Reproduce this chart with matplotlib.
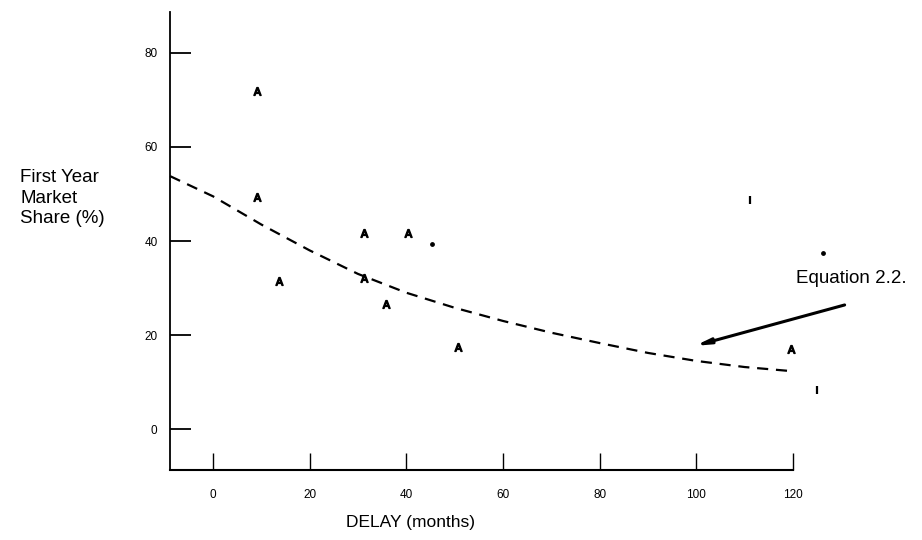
import matplotlib
matplotlib.use("Agg")
import matplotlib.pyplot as plt

plt.rcParams["font.family"] = ["Liberation Sans", "DejaVu Sans"]

# scatter points (delay in months, share in %)
a_delay = [9, 9, 31.3, 40.4, 13.6, 31.3, 35.8, 50.6, 119.6]
a_share = [71.8, 49.4, 41.6, 41.6, 31.5, 32.2, 26.7, 17.5, 17.0]
i_delay = [111.1, 125.0]
i_share = [48.7, 8.3]
dot_delay = [45.4, 126.2]
dot_share = [39.3, 37.5]

# Equation 2.2 curve, sampled from the dashed line
curve_delay = [-8.9, 0, 10, 20, 30, 40, 50, 60, 70, 80, 90, 100, 110, 120]
curve_share = [53.8, 49.5, 43.5, 38.0, 33.0, 29.0, 25.8, 23.0, 20.5, 18.3,
               16.2, 14.5, 13.2, 12.3]

x_ticks = [0, 20, 40, 60, 80, 100, 120]
y_ticks = [0, 20, 40, 60, 80]

fig = plt.figure(figsize=(9.22, 5.4), dpi=100)
ax = fig.add_axes([0.1844, 0.1296, 0.860 - 0.1844, 0.9778 - 0.1296])

ax.plot(curve_delay, curve_share, color="black", lw=1.6, ls=(0, (5, 3.5)),
        clip_on=False)
ax.scatter(a_delay, a_share, marker=r"$\mathsf{A}$", s=32, color="black",
           clip_on=False)
ax.scatter(i_delay, i_share, marker="|", s=40, linewidths=1.6, color="black",
           clip_on=False)
ax.scatter(dot_delay, dot_share, marker="o", s=6, color="black", clip_on=False)

ax.annotate("", xy=(99.7, 17.7), xytext=(130.7, 26.4),
            arrowprops=dict(arrowstyle="-|>,head_length=0.8,head_width=0.15",
                            color="black", lw=2.2, shrinkA=0, shrinkB=0),
            annotation_clip=False)
ax.text(120.6, 32.1, "Equation 2.2.", fontsize=13.5, ha="left", va="center")

ax.set_xlim(-8.9, 120)
ax.set_ylim(-8.7, 88.7)
ax.set_xticks(x_ticks)
ax.set_yticks(y_ticks)
ax.set_xticklabels([str(v) for v in x_ticks], fontsize=8.5)
ax.set_yticklabels([str(v) for v in y_ticks], fontsize=8.5)
ax.tick_params(axis="y", direction="in", length=15, width=1.3, pad=9)
ax.tick_params(axis="x", direction="in", length=12, width=1.0, pad=14)

for side in ["top", "right"]:
    ax.spines[side].set_visible(False)
ax.spines["left"].set_linewidth(1.3)
ax.spines["bottom"].set_linewidth(1.5)

fig.text(0.022, 0.633, "First Year\nMarket\nShare (%)", fontsize=13.5,
         ha="left", va="center", linespacing=1.25)
fig.text(0.445, 0.033, "DELAY (months)", fontsize=12.5, ha="center",
         va="center")

fig.savefig("out.png", dpi=100)
